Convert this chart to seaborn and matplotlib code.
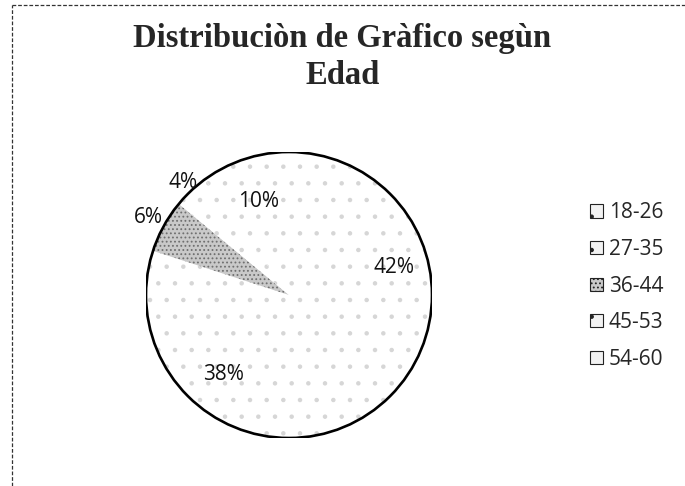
import matplotlib
matplotlib.use("Agg")
import matplotlib.pyplot as plt
import seaborn as sns
import numpy as np
from matplotlib.patches import Patch, Circle
from matplotlib.lines import Line2D

# ---- data ----
categories = ["18-26", "27-35", "36-44", "45-53", "54-60"]
values = [42, 38, 6, 4, 10]
pct_labels = ["42%", "38%", "6%", "4%", "10%"]
title_text = "Distribuciòn de Gràfico segùn\nEdad"

# ---- style ----
sns.set_style("white")
plt.rcParams["font.family"] = ["Open Sans", "DejaVu Sans"]
plt.rcParams["hatch.linewidth"] = 0.8

face_colors = ["#ffffff", "#ffffff", "#c9c9c9", "#ffffff", "#ffffff"]
hatch_colors = ["#d6d6d6", "#d6d6d6", "#6f6f6f", "#d6d6d6", "#d6d6d6"]
hatches = [".", ".", "....", ".", "."]
label_dist = [0.76, 0.72, 1.12, 1.08, 0.69]

W, H = 685, 486
fig = plt.figure(figsize=(W / 100, H / 100), dpi=100)

cx, cy, r = 289, 295, 143
ax = fig.add_axes([(cx - r) / W, (H - cy - r) / H, 2 * r / W, 2 * r / H])

wedges, _ = ax.pie(values, startangle=90, counterclock=False,
                   colors=face_colors, radius=1.0,
                   wedgeprops=dict(linewidth=0))
for w, hc, h in zip(wedges, hatch_colors, hatches):
    w.set_edgecolor(hc)
    w.set_hatch(h)
    w.set_linewidth(0)

ax.add_patch(Circle((0, 0), 1.0, fill=False, edgecolor="black", linewidth=1.9, zorder=5))

for w, lab, d in zip(wedges, pct_labels, label_dist):
    ang = np.deg2rad((w.theta1 + w.theta2) / 2)
    ax.text(d * np.cos(ang), d * np.sin(ang), lab, ha="center", va="center",
            fontsize=15, color="#111111", zorder=6)

ax.set_xlim(-1, 1)
ax.set_ylim(-1, 1)
ax.set_aspect("equal")
ax.axis("off")

handles = [Patch(facecolor=fc if fc != "#ffffff" else "#f2f2f2", edgecolor="#222222",
                 hatch=h, linewidth=0.8)
           for fc, h in zip(face_colors, hatches)]
fig.legend(handles, categories, loc="center left",
           bbox_to_anchor=(590 / W, 1 - 286 / H), frameon=False,
           fontsize=15, handlelength=0.6, handleheight=0.6,
           handletextpad=0.3, labelspacing=0.75, borderpad=0, borderaxespad=0)

fig.text(0.5, 1 - 57 / H, title_text, ha="center", va="center",
         fontsize=23.5, fontweight="bold", family=["Liberation Serif", "DejaVu Serif"],
         linespacing=1.25)

# dashed frame edges (top and left)
fig.add_artist(Line2D([12 / W, 1.0], [1 - 5 / H, 1 - 5 / H], transform=fig.transFigure,
                      color="#333333", linewidth=0.9, linestyle=(0, (3, 1.5))))
fig.add_artist(Line2D([12 / W, 12 / W], [0.0, 1 - 5 / H], transform=fig.transFigure,
                      color="#333333", linewidth=0.9, linestyle=(0, (3, 1.5))))

fig.savefig("out.png", dpi=100)
